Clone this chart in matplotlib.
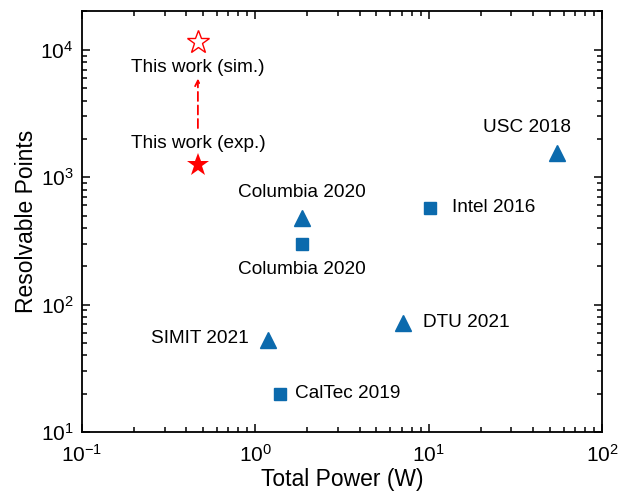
import matplotlib
matplotlib.use("Agg")
import matplotlib.pyplot as plt

plt.rcParams['font.family'] = ['Liberation Sans', 'DejaVu Sans']
plt.rcParams['mathtext.fontset'] = 'custom'
plt.rcParams['mathtext.rm'] = 'Liberation Sans'
plt.rcParams['mathtext.it'] = 'Liberation Sans'
plt.rcParams['axes.unicode_minus'] = False

# data
this_power = 0.467
this_exp = 1250
this_sim = 11600

tri_labels = ['Columbia 2020', 'USC 2018', 'DTU 2021', 'SIMIT 2021']
tri_power = [1.86, 55, 7.1, 1.18]
tri_points = [480, 1550, 72, 53]

sq_labels = ['Columbia 2020', 'Intel 2016', 'CalTec 2019']
sq_power = [1.86, 10.2, 1.39]
sq_points = [300, 575, 20]

blue = '#0b6aad'
red = '#ff0000'

fig = plt.figure(figsize=(6.2, 4.97), dpi=100)
ax = fig.add_axes([0.132, 0.131, 0.839, 0.847])

ax.plot(tri_power, tri_points, '^', color=blue, markersize=11, linestyle='none')
ax.plot(sq_power, sq_points, 's', color=blue, markersize=8.5, linestyle='none')
ax.plot([this_power], [this_exp], '*', color=red, markersize=17, markeredgewidth=0)
ax.plot([this_power], [this_sim], '*', color=red, markerfacecolor='white',
        markersize=17, markeredgewidth=1.0)

# dashed arrow from exp to sim
ax.annotate('', xy=(this_power, this_exp * 5.0), xytext=(this_power, this_exp * 1.85),
            arrowprops=dict(arrowstyle='->', color=red, linestyle=(0, (5, 2.5)), lw=1.3))

fs = 13.7
ax.annotate('This work (sim.)', (this_power, this_sim), xytext=(0, -26),
            textcoords='offset pixels', ha='center', va='center', fontsize=fs)
ax.annotate('This work (exp.)', (this_power, this_exp), xytext=(0, 21),
            textcoords='offset pixels', ha='center', va='center', fontsize=fs)

# label offsets (pixels) for each marker
tri_off = [(0, 25, 'center'), (-30, 25, 'center'), (20, 0, 'left'), (-19, 1, 'right')]
sq_off = [(0, -26, 'center'), (22, 0, 'left'), (15, 0, 'left')]
for lab, x, y, (dx, dy, ha) in zip(tri_labels, tri_power, tri_points, tri_off):
    ax.annotate(lab, (x, y), xytext=(dx, dy), textcoords='offset pixels',
                ha=ha, va='center', fontsize=fs)
for lab, x, y, (dx, dy, ha) in zip(sq_labels, sq_power, sq_points, sq_off):
    ax.annotate(lab, (x, y), xytext=(dx, dy), textcoords='offset pixels',
                ha=ha, va='center', fontsize=fs)

ax.set_xscale('log')
ax.set_yscale('log')
ax.set_xlim(0.1, 100)
ax.set_ylim(10, 20200)
ax.set_xlabel('Total Power (W)', fontsize=16.5, labelpad=1)
ax.set_ylabel('Resolvable Points', fontsize=16.5, labelpad=2)

ax.tick_params(which='both', direction='in', top=True, right=True, width=1.1)
ax.tick_params(which='major', length=6, labelsize=15)
ax.tick_params(axis='x', which='major', pad=9)
ax.tick_params(axis='y', which='major', pad=6)
ax.tick_params(which='minor', length=3.5)
for s in ax.spines.values():
    s.set_linewidth(1.3)

fig.savefig('out.png', dpi=100)
